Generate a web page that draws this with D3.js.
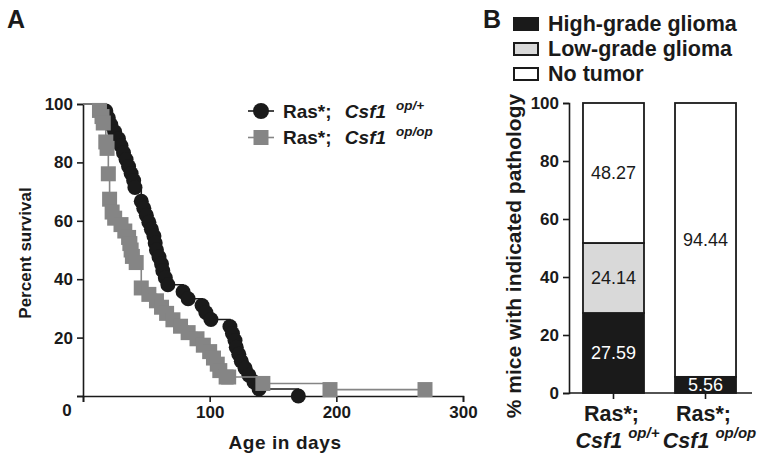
<!DOCTYPE html>
<html>
<head>
<meta charset="utf-8">
<script src="https://cdn.jsdelivr.net/npm/d3@7"></script>
<style>
  html, body { margin: 0; padding: 0; background: #fff; }
  svg { display: block; font-family: "Liberation Sans", Arial, Helvetica, sans-serif; }
  .axis path, .axis line { stroke: #1a1a1a; stroke-width: 1.6px; }
  .axis text { font-weight: bold; fill: #1a1a1a; }
</style>
</head>
<body>
<svg id="chart" width="762" height="464"></svg>
<script>
// ---------- Panel A data: Kaplan-Meier points (day, percent survival) ----------
const opPlusDays = [0, 18, 20, 22, 25, 28, 30, 32, 34, 36, 38, 40, 41, 46, 48, 50, 52, 54, 56, 57, 58, 60, 62, 63, 65, 67, 79, 83, 94, 97, 101, 116, 118, 120, 121, 123, 125, 128, 131, 135, 139, 170];
const opPlusPct  = [100, 97.6, 95.2, 92.9, 90.5, 88.1, 85.7, 83.3, 81.0, 78.6, 76.2, 73.8, 71.4, 66.7, 64.3, 61.9, 59.5, 57.1, 54.8, 52.4, 50.0, 47.6, 45.2, 42.9, 40.5, 38.1, 35.7, 33.3, 31.0, 28.6, 26.2, 23.8, 21.4, 19.0, 16.7, 14.3, 11.9, 9.5, 7.1, 4.8, 2.4, 0];
const opOpDays = [0, 13, 15, 16, 18, 19, 20, 21, 23, 25, 30, 33, 36, 37, 38, 39, 42, 46, 52, 58, 62, 66, 71, 77, 83, 90, 95, 100, 103, 106, 108, 113, 115, 142, 195, 270];
const opOpPct  = [100, 97.8, 95.7, 93.5, 87.0, 84.8, 76.1, 67.4, 63.0, 60.9, 58.7, 56.5, 54.3, 52.2, 50.0, 47.8, 45.7, 37.0, 34.8, 32.6, 30.4, 28.3, 26.1, 23.9, 21.7, 19.6, 17.4, 15.2, 13.0, 10.9, 8.7, 6.5, 6.5, 4.3, 2.2, 2.2];
const xTicksA = [0, 100, 200, 300];
const yTicksA = [0, 20, 40, 60, 80, 100];
const seriesNamesA = ["op/+", "op/op"];

// ---------- Panel B data ----------
const groupsB = ["op/+", "op/op"];
const highGrade = [27.59, 5.56];
const lowGrade  = [24.14, 0];
const noTumor   = [48.27, 94.44];
const pathologyNames = ["High-grade glioma", "Low-grade glioma", "No tumor"];
const yTicksB = [0, 20, 40, 60, 80, 100];

const svg = d3.select("#chart");
const DARK = "#1a1a1a", GREY = "#858585", LIGHT = "#d9d9d9";

// ================= Panel A =================
const xA = d3.scaleLinear().domain([0, 300]).range([83, 463]);
const yA = d3.scaleLinear().domain([0, 100]).range([396, 104]);

svg.append("text").attr("x", 7).attr("y", 28).attr("font-size", 25).attr("font-weight", "bold").attr("fill", DARK).text("A");

const gxA = svg.append("g").attr("class", "axis").attr("transform", `translate(0,${yA(0)})`)
  .call(d3.axisBottom(xA).tickValues(xTicksA).tickSize(6).tickPadding(4).tickFormat(d => d === 0 ? "" : d));
gxA.selectAll("text").attr("font-size", 17).attr("font-family", "Liberation Sans, Arial, sans-serif");
const gyA = svg.append("g").attr("class", "axis").attr("transform", `translate(${xA(0)},0)`)
  .call(d3.axisLeft(yA).tickValues(yTicksA).tickSize(6).tickPadding(4).tickFormat(d => d === 0 ? "" : d));
gyA.selectAll("text").attr("font-size", 17).attr("font-family", "Liberation Sans, Arial, sans-serif");
svg.selectAll(".axis .domain").attr("stroke", DARK);
svg.append("text").attr("x", 67).attr("y", 416).attr("text-anchor", "middle")
  .attr("font-size", 17).attr("font-weight", "bold").attr("fill", DARK).text("0");

svg.append("text").attr("x", 285).attr("y", 449).attr("text-anchor", "middle")
  .attr("font-size", 19).attr("font-weight", "bold").attr("letter-spacing", "0.6px").attr("fill", DARK).text("Age in days");
svg.append("text").attr("transform", `translate(31,${(yA(0) + yA(100)) / 2 + 3}) rotate(-90)`).attr("text-anchor", "middle")
  .attr("font-size", 17).attr("font-weight", "bold").attr("fill", DARK).text("Percent survival");

const stepLine = d3.line().x(d => xA(d[0])).y(d => yA(d[1])).curve(d3.curveStepAfter);
const ptsPlus = opPlusDays.map((d, i) => [d, opPlusPct[i]]);
const ptsOp = opOpDays.map((d, i) => [d, opOpPct[i]]);

svg.append("path").datum(ptsPlus).attr("d", stepLine).attr("fill", "none").attr("stroke", DARK).attr("stroke-width", 1.6);
svg.append("g").selectAll("circle").data(ptsPlus.slice(1)).join("circle")
  .attr("cx", d => xA(d[0])).attr("cy", d => yA(d[1])).attr("r", 7.5).attr("fill", DARK);

svg.append("path").datum(ptsOp).attr("d", stepLine).attr("fill", "none").attr("stroke", GREY).attr("stroke-width", 1.6);
const sq = 15;
svg.append("g").selectAll("rect").data(ptsOp.slice(1)).join("rect")
  .attr("x", d => xA(d[0]) - sq / 2).attr("y", d => yA(d[1]) - sq / 2).attr("width", sq).attr("height", sq).attr("fill", GREY);

// Legend A
const legA = svg.append("g");
const legRows = [{ y: 111, sup: seriesNamesA[0], shape: "circle", color: DARK }, { y: 137.5, sup: seriesNamesA[1], shape: "rect", color: GREY }];
legRows.forEach(r => {
  legA.append("line").attr("x1", 248).attr("x2", 274).attr("y1", r.y).attr("y2", r.y).attr("stroke", r.color).attr("stroke-width", 1.6);
  if (r.shape === "circle") legA.append("circle").attr("cx", 261).attr("cy", r.y).attr("r", 8).attr("fill", r.color);
  else legA.append("rect").attr("x", 261 - 7.5).attr("y", r.y - 7.5).attr("width", 15).attr("height", 15).attr("fill", r.color);
  const t = legA.append("text").attr("x", 283).attr("y", r.y + 6.5).attr("font-size", 19).attr("font-weight", "bold").attr("fill", DARK);
  t.append("tspan").text("Ras*; ");
  t.append("tspan").attr("font-style", "italic").attr("dx", 8).text("Csf1");
  t.append("tspan").attr("font-style", "italic").attr("font-size", 13.5).attr("dx", 10).attr("dy", -8).text(r.sup);
});

// ================= Panel B =================
svg.append("text").attr("x", 483).attr("y", 28).attr("font-size", 25).attr("font-weight", "bold").attr("fill", DARK).text("B");

const xB = d3.scaleBand().domain(groupsB).range([569, 750]).paddingInner(0.337).paddingOuter(0.152);
const yB = d3.scaleLinear().domain([0, 100]).range([393, 103]);

const stackData = groupsB.map((g, i) => ({ group: g, high: highGrade[i], low: lowGrade[i], none: noTumor[i] }));
const stack = d3.stack().keys(["high", "low", "none"])(stackData);
const fills = { high: DARK, low: LIGHT, none: "#ffffff" };
const labelFill = { high: "#ffffff", low: DARK, none: DARK };

stack.forEach(layer => {
  const g = svg.append("g");
  layer.forEach(seg => {
    const h = yB(seg[0]) - yB(seg[1]);
    if (h <= 0) return;
    g.append("rect").attr("x", xB(seg.data.group)).attr("y", yB(seg[1])).attr("width", xB.bandwidth()).attr("height", h)
      .attr("fill", fills[layer.key]).attr("stroke", DARK).attr("stroke-width", 1.8);
  });
});
stack.forEach(layer => {
  layer.forEach(seg => {
    const v = seg[1] - seg[0];
    if (v <= 0) return;
    let cy = yB((seg[0] + seg[1]) / 2) + 6;
    if (cy > yB(0) - 1) cy = yB(0) - 1;
    svg.append("text").attr("x", xB(seg.data.group) + xB.bandwidth() / 2).attr("y", cy).attr("text-anchor", "middle")
      .attr("font-size", 18).attr("fill", labelFill[layer.key]).text(v.toFixed(2));
  });
});

const gyB = svg.append("g").attr("class", "axis").attr("transform", `translate(569,0)`)
  .call(d3.axisLeft(yB).tickValues(yTicksB).tickSize(6).tickPadding(4));
gyB.selectAll("text").attr("font-size", 17).attr("font-family", "Liberation Sans, Arial, sans-serif");
const gxB = svg.append("g").attr("class", "axis").attr("transform", `translate(0,${yB(0)})`)
  .call(d3.axisBottom(xB).tickSize(6).tickSizeOuter(0).tickFormat(""));
gxB.select(".domain").attr("d", `M569,0H752`);

// x labels B
groupsB.forEach(g => {
  const cx = xB(g) + xB.bandwidth() / 2;
  svg.append("text").attr("x", cx - 2).attr("y", 421).attr("text-anchor", "middle")
    .attr("font-size", 21.5).attr("font-weight", "bold").attr("fill", DARK).text("Ras*;");
  const t = svg.append("text").attr("x", cx + 4).attr("y", 448).attr("text-anchor", "middle")
    .attr("font-size", 21.5).attr("font-weight", "bold").attr("fill", DARK);
  t.append("tspan").attr("font-style", "italic").text("Csf1");
  t.append("tspan").attr("font-style", "italic").attr("font-size", 15).attr("dx", 6).attr("dy", -10).text(g);
});

svg.append("text").attr("transform", `translate(521,${(yB(0) + yB(100)) / 2 + 8}) rotate(-90)`).attr("text-anchor", "middle")
  .attr("font-size", 21).attr("font-weight", "bold").attr("fill", DARK).text("% mice with indicated pathology");

// legend B
const legB = svg.append("g");
pathologyNames.forEach((name, i) => {
  const key = ["high", "low", "none"][i];
  const y0 = 18 + i * 25;
  legB.append("rect").attr("x", 514).attr("y", y0).attr("width", 24).attr("height", 12)
    .attr("fill", fills[key]).attr("stroke", DARK).attr("stroke-width", 2);
  legB.append("text").attr("x", 548).attr("y", y0 + 13).attr("font-size", 21.5).attr("font-weight", "bold").attr("fill", DARK).text(name);
});
</script>
</body>
</html>
